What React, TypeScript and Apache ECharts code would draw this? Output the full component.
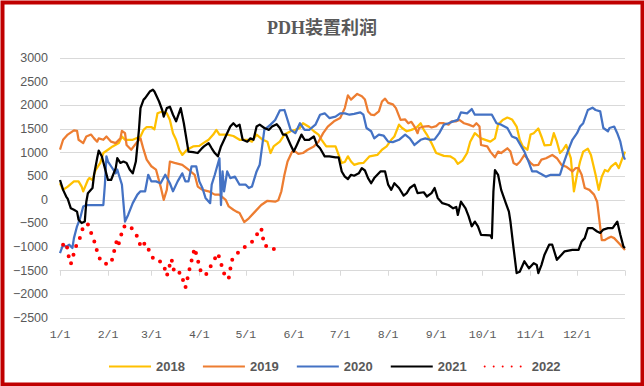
import React, { useEffect, useRef } from "react";
import * as echarts from "echarts";

// ---- axis / categories ----
const monthDays = [31, 28, 31, 30, 31, 30, 31, 31, 30, 31, 30, 31];
const yTicks = { min: -2500, max: 3000, step: 500 };
const seriesNames = ["2018", "2019", "2020", "2021", "2022"];
const seriesColors = ["#FFC000", "#ED7D31", "#4472C4", "#000000", "#FF0000"];

// ---- data: [day of year (0 = 1/1), profit] ----
const d2018: [number, number][] = [
  [0,350],[2,210],[5,280],[9,390],[12,390],[14,280],[15,180],[18,420],[19,460],[21,420],[23,630],[26,780],[28,990],[31,1060],[34,1130],[38,1200],[40,1340],[42,1270],[47,1270],[52,1340],[54,1480],[56,1540],[59,1540],[61,1490],[63,1830],[66,1870],[69,1830],[71,1690],[73,1410],[75,1270],[77,1060],[79,950],[82,1060],[86,1130],[90,1140],[94,1230],[96,1270],[99,1380],[101,1480],[103,1380],[108,1380],[112,1350],[116,1270],[121,1270],[124,1230],[127,1380],[131,1270],[134,1230],[136,990],[138,1130],[142,1230],[145,1380],[149,1450],[152,1480],[155,1520],[157,1620],[161,1540],[164,1450],[167,1380],[169,1270],[172,1130],[174,1130],[178,1130],[180,950],[182,780],[184,800],[186,920],[188,810],[190,740],[193,770],[196,780],[200,920],[205,950],[208,1060],[211,1130],[214,1270],[216,1340],[219,1590],[221,1520],[224,1450],[227,1480],[230,1520],[233,1620],[235,1480],[237,1380],[240,1200],[243,990],[248,930],[252,920],[255,860],[257,760],[260,830],[263,990],[265,1230],[268,1410],[272,1300],[278,1230],[281,1300],[283,1590],[286,1690],[289,1740],[292,1700],[295,1550],[297,1270],[299,1130],[302,1060],[304,1380],[306,1410],[309,1510],[311,1340],[313,1150],[317,1160],[319,1410],[321,1230],[323,990],[325,1060],[327,1160],[330,880],[332,180],[334,530],[336,810],[338,1020],[341,1080],[343,950],[346,530],[348,210],[350,490],[352,630],[354,600],[356,700],[359,780],[361,670],[363,850],[365,1020]
];
const d2019: [number, number][] = [
  [0,1060],[2,1270],[5,1380],[9,1470],[11,1460],[12,1270],[15,1200],[17,1340],[20,1380],[22,1300],[24,1230],[25,1300],[28,1270],[30,1340],[33,1230],[36,1200],[39,1300],[40,1460],[42,1410],[43,1160],[46,1060],[50,1230],[52,1300],[54,1060],[56,850],[59,710],[62,640],[65,280],[67,0],[69,210],[71,810],[74,780],[79,740],[83,640],[87,530],[89,280],[92,210],[96,180],[100,110],[103,110],[107,0],[109,-140],[112,-210],[114,-250],[116,-280],[119,-470],[122,-390],[126,-250],[130,-110],[134,-20],[139,-40],[141,-10],[143,180],[145,530],[147,810],[150,1020],[152,1020],[154,970],[157,990],[160,1060],[164,1130],[167,1230],[170,1410],[173,1550],[177,1660],[181,1730],[184,1940],[186,2210],[188,2120],[192,2240],[195,2190],[197,2120],[199,1870],[201,1800],[203,1790],[206,1870],[208,2080],[210,2140],[212,2050],[215,2020],[217,1940],[220,1690],[223,1700],[225,1620],[227,1650],[229,1550],[231,1410],[232,1520],[235,1550],[238,1560],[240,1530],[243,1560],[245,1620],[248,1620],[251,1590],[253,1660],[256,1660],[258,1690],[261,1620],[264,1590],[267,1550],[269,1620],[271,1550],[272,1160],[276,1130],[278,1020],[281,900],[283,1020],[285,990],[289,1090],[291,1020],[293,780],[295,740],[297,800],[300,950],[304,780],[306,730],[309,740],[311,850],[314,880],[318,950],[321,880],[324,740],[327,700],[331,600],[333,670],[335,670],[337,530],[339,250],[342,210],[345,110],[347,-40],[350,-850],[352,-850],[354,-810],[356,-780],[358,-810],[362,-950],[365,-1060]
];
const d2020: [number, number][] = [
  [0,-1130],[2,-950],[4,-990],[6,-950],[8,-1020],[9,-810],[11,-560],[13,-390],[15,-140],[17,-110],[28,-110],[29,320],[30,920],[31,810],[33,710],[36,560],[37,640],[38,530],[40,320],[42,-460],[44,-320],[47,-70],[50,110],[52,180],[55,180],[57,530],[59,390],[62,390],[65,350],[68,530],[71,350],[73,180],[76,390],[79,560],[81,390],[83,390],[85,710],[88,710],[90,390],[92,250],[94,40],[97,-70],[98,320],[100,530],[103,880],[104,-110],[105,600],[106,180],[108,600],[110,460],[113,490],[116,320],[120,320],[122,250],[124,280],[127,600],[129,740],[132,1480],[136,1590],[139,1690],[142,1890],[145,1900],[149,1480],[152,1410],[155,1620],[158,1480],[161,1480],[165,1590],[168,1800],[171,1830],[174,1730],[178,1760],[181,1830],[184,1830],[187,1800],[190,1820],[194,1850],[196,1800],[198,1520],[201,1450],[203,1300],[206,1380],[209,1360],[212,1230],[215,1220],[219,1270],[223,1380],[226,1300],[229,1160],[233,1270],[236,1300],[239,1270],[242,1280],[245,1410],[248,1590],[251,1620],[254,1660],[257,1690],[259,1850],[263,1830],[266,1920],[268,1800],[272,1800],[279,1800],[282,1620],[285,1590],[289,1520],[292,1340],[295,1300],[298,1130],[300,1020],[303,780],[305,600],[308,600],[310,560],[314,490],[317,530],[323,530],[325,740],[328,1020],[331,1270],[334,1410],[336,1550],[338,1620],[341,1900],[344,1950],[346,1900],[349,1870],[351,1520],[354,1450],[355,1520],[358,1550],[360,1410],[362,1230],[364,920],[365,850]
];
const d2021: [number, number][] = [
  [0,420],[2,210],[4,70],[5,20],[7,-180],[9,-210],[11,-250],[12,-420],[14,-490],[16,-460],[17,-40],[18,140],[21,250],[22,530],[24,880],[25,1040],[27,920],[29,670],[31,420],[33,420],[36,670],[37,880],[39,780],[41,810],[43,780],[45,640],[47,560],[49,810],[51,1480],[52,1940],[54,2120],[55,2150],[58,2290],[60,2330],[61,2290],[64,2080],[66,1900],[67,1760],[69,1940],[71,1970],[73,1800],[75,1660],[78,1940],[80,1620],[83,1020],[86,1010],[89,990],[92,1100],[93,1130],[96,1200],[98,1090],[100,990],[102,920],[104,1130],[107,1340],[110,1550],[112,1620],[114,1550],[116,1590],[118,1270],[121,1230],[123,1300],[125,1270],[127,1550],[129,1590],[132,1520],[135,1480],[137,1550],[140,1600],[142,1520],[144,1380],[146,1380],[149,1160],[151,1020],[153,1160],[156,1380],[158,1270],[161,1270],[164,1340],[166,1160],[168,1090],[171,920],[174,920],[178,900],[180,900],[182,600],[184,490],[186,440],[188,530],[190,510],[193,560],[195,670],[197,620],[199,460],[201,350],[203,460],[207,600],[210,600],[212,320],[214,210],[216,350],[219,250],[222,90],[224,140],[226,250],[229,320],[231,140],[235,160],[237,70],[240,140],[242,250],[244,40],[247,-70],[251,-110],[254,-180],[256,-150],[257,-320],[259,-40],[262,-180],[264,-350],[266,-560],[268,-460],[270,-560],[272,-740],[278,-750],[279,-810],[280,180],[281,630],[283,530],[285,210],[288,-70],[290,-250],[291,-460],[293,-1020],[295,-1550],[297,-1520],[300,-1300],[303,-1450],[306,-1340],[308,-1380],[309,-1550],[311,-1380],[313,-1160],[316,-950],[318,-950],[321,-1270],[324,-1160],[326,-1090],[331,-1060],[335,-1060],[337,-880],[339,-810],[341,-600],[344,-600],[347,-670],[349,-700],[351,-630],[354,-600],[357,-600],[360,-460],[362,-740],[364,-990],[365,-1020]
];
const d2022: [number, number][] = [
  [2,-950],[4,-900],[6,-1270],[7,-1360],[10,-1010],[14,-720],[15,-540],[18,-520],[22,-860],[25,-1210],[28,-1350],[33,-1350],[37,-820],[38,-920],[41,-570],[45,-540],[51,-830],[52,-1010],[55,-910],[60,-1230],[62,-1220],[67,-1380],[69,-1610],[72,-1250],[74,-1560],[78,-1540],[81,-1860],[84,-1420],[87,-1020],[91,-1520],[94,-1600],[102,-1130],[107,-1660],[109,-1660],[111,-1280],[116,-1080],[124,-890],[130,-600],[132,-970],[137,-990],[141,-1170]
];
const seriesData = [d2018, d2019, d2020, d2021, d2022];

// build day labels (non-leap year) plus closing 1/1
const dayLabels: string[] = [];
const monthStart: boolean[] = [];
monthDays.forEach((n, m) => {
  for (let d = 1; d <= n; d++) {
    dayLabels.push(`${m + 1}/${d}`);
    monthStart.push(d === 1);
  }
});
dayLabels.push("1/1");
monthStart.push(true);
const lastIdx = dayLabels.length - 1;

export default function App() {
  const ref = useRef<HTMLDivElement>(null);
  useEffect(() => {
    document.body.style.margin = "0";
    if (!ref.current) return;
    const chart = echarts.init(ref.current, undefined, { renderer: "svg" });
    const gridTop = 58;
    const gridBottom = 68;
    const plotH = 386 - gridTop - gridBottom;
    const axisOffset = -((-1500 - yTicks.min) / (yTicks.max - yTicks.min)) * plotH;
    const grey = "#595959";
    chart.setOption({
      animation: false,
      backgroundColor: "#ffffff",
      title: {
        text: "PDH装置利润",
        left: "center",
        top: 14,
        textStyle: {
          fontFamily: "'Liberation Serif', 'Noto Sans CJK SC', serif",
          fontSize: 18,
          fontWeight: "bold",
          color: grey,
        },
      },
      grid: { left: 60, right: 19, top: gridTop, bottom: gridBottom, containLabel: false },
      legend: {
        data: seriesNames,
        left: 103,
        top: 355,
        itemWidth: 42,
        itemHeight: 14,
        itemGap: 17,
        itemStyle: { opacity: 0 },
        textStyle: {
          fontFamily: "'Liberation Sans', sans-serif",
          fontSize: 13,
          fontWeight: "bold",
          color: grey,
        },
      },
      xAxis: [
        {
          type: "category",
          data: dayLabels,
          boundaryGap: false,
          axisLine: { show: false },
          axisTick: { show: false },
          splitLine: { show: false },
          axisLabel: {
            interval: (i: number) => monthStart[i] && i < lastIdx,
            margin: 10,
            fontFamily: "'Liberation Mono', monospace",
            fontSize: 11.5,
            color: grey,
          },
        },
        {
          type: "category",
          data: dayLabels,
          boundaryGap: false,
          position: "bottom",
          offset: axisOffset,
          axisLine: { show: true, lineStyle: { color: "#D9D9D9", width: 1 } },
          axisTick: {
            show: true,
            length: 5,
            interval: (i: number) => monthStart[i],
            lineStyle: { color: "#D9D9D9", width: 1 },
          },
          axisLabel: { show: false },
          splitLine: { show: false },
        },
      ],
      yAxis: {
        type: "value",
        min: yTicks.min,
        max: yTicks.max,
        interval: yTicks.step,
        axisLine: { show: false },
        axisTick: { show: false },
        splitLine: { lineStyle: { color: "#D9D9D9", width: 1 } },
        axisLabel: {
          margin: 12,
          fontFamily: "'Liberation Sans', sans-serif",
          fontSize: 12.5,
          color: grey,
          formatter: (v: number) => String(v).replace("-", "\u2212"),
        },
      },
      series: seriesNames.map((name, i) => ({
        name,
        type: "line",
        xAxisIndex: 0,
        data: seriesData[i],
        symbol: "none",
        showSymbol: false,
        smooth: false,
        itemStyle: { color: seriesColors[i] },
        lineStyle:
          name === "2022"
            ? { color: seriesColors[i], width: 4, type: [0, 9], cap: "round" }
            : { color: seriesColors[i], width: 2.25, join: "round" },
      })),
      graphic: [
        {
          type: "rect",
          left: 0,
          top: 0,
          z: 100,
          shape: { x: 2, y: 2, width: 640, height: 382 },
          style: { fill: "none", stroke: "#C00000", lineWidth: 4 },
          silent: true,
        },
      ],
    });
    return () => chart.dispose();
  }, []);
  return <div ref={ref} style={{ width: 644, height: 386 }} />;
}
